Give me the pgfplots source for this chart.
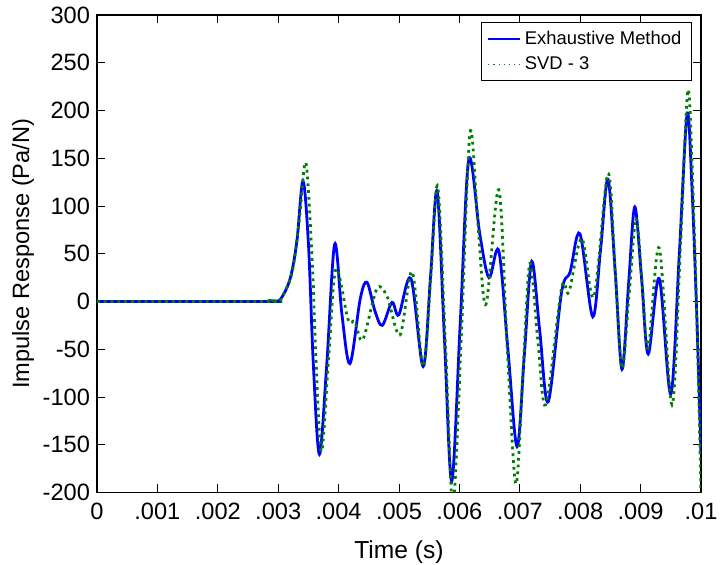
\documentclass[border=0pt]{standalone}
\usepackage{pgfplots}
\pgfplotsset{compat=1.18}
\usepackage{fontspec}
\setmainfont{Liberation Sans}
\definecolor{mblue}{RGB}{0,0,255}
\definecolor{mgreen}{RGB}{0,128,0}
\begin{document}
\begin{tikzpicture}
\begin{axis}[
  scale only axis,
  width=302pt, height=238.75pt,
  xmin=0, xmax=0.01, ymin=-200, ymax=300,
  xtick={0,0.001,0.002,0.003,0.004,0.005,0.006,0.007,0.008,0.009,0.01},
  xticklabels={0,.001,.002,.003,.004,.005,.006,.007,.008,.009,.01},
  ytick={-200,-150,...,300},
  scaled x ticks=false,
  tick align=inside,
  tick style={black, thin},
  major tick length=4pt,
  axis line style={black, line width=0.8pt},
  ticklabel style={font=\fontsize{11.8}{14}\selectfont},
  xticklabel style={yshift=-1.5pt},
  /pgf/number format/assume math mode=true,
  xlabel={Time (s)},
  ylabel={Impulse Response (Pa/N)},
  xlabel style={font=\fontsize{12.3}{14}\selectfont, yshift=-4pt},
  ylabel style={font=\fontsize{11.8}{14}\selectfont, yshift=-2.5pt},
  legend style={at={(rel axis cs:0.985,0.985)}, anchor=north east,
    font=\fontsize{9.2}{10}\selectfont, draw=black, line width=0.6pt,
    inner xsep=3pt, inner ysep=2pt, row sep=0.8pt},
  legend cell align=left,
  clip=true,
]
\addplot[mblue, line width=1.4pt, smooth, tension=0.55,
  legend image code/.code={\draw[mblue, line width=0.6pt] (0pt,0pt) -- (16pt,0pt);}] coordinates {
(0,0) (0.002844,0) (0.002945,0.5) (0.003046,3) (0.003198,24) (0.003309,63) (0.003410,126)
(0.003501,60) (0.003582,-66) (0.003683,-160) (0.003804,-66) (0.003935,60) (0.004056,-14)
(0.004188,-65) (0.004359,3) (0.004470,20) (0.004602,-10) (0.004723,-25) (0.004884,-1)
(0.004996,-14) (0.005198,24) (0.005400,-68) (0.005521,25) (0.005632,115) (0.005753,-40)
(0.005874,-188) (0.006016,-20) (0.006157,149) (0.006339,70) (0.006490,25) (0.006652,53)
(0.006803,-50) (0.006955,-152) (0.007076,-55) (0.007197,42) (0.007329,-30) (0.007470,-105)
(0.007692,10) (0.007833,31) (0.007995,71) (0.008207,-16) (0.008338,55) (0.008460,128)
(0.008581,30) (0.008692,-71) (0.008803,20) (0.008904,99) (0.009015,25) (0.009126,-55)
(0.009308,24) (0.009500,-97) (0.009641,50) (0.009770,196) (0.009850,120) (0.009930,-14)
(0.01,-160)
};
\addlegendentry{Exhaustive Method}
\addplot[mgreen, line width=1.4pt, dotted, smooth, tension=0.55,
  legend image code/.code={\draw[mgreen, line width=0.6pt, dotted] (0pt,0pt) -- (16pt,0pt);}] coordinates {
(0,0) (0.002844,0) (0.002945,0.5) (0.003046,3) (0.003228,30) (0.003349,85) (0.003460,145)
(0.003572,30) (0.003612,-40) (0.003713,-157) (0.003834,-60) (0.003955,34) (0.004157,-19)
(0.004268,-21) (0.004400,-40) (0.004632,13) (0.004804,5) (0.005016,-35) (0.005218,31)
(0.005400,-68) (0.005531,30) (0.005642,120) (0.005773,-50) (0.005894,-212) (0.006036,-30)
(0.006177,177) (0.006308,80) (0.006440,-3) (0.006652,117) (0.006793,-50) (0.006935,-191)
(0.007056,-70) (0.007167,40) (0.007298,-40) (0.007430,-108) (0.007692,14) (0.007813,10)
(0.008025,66) (0.008227,5) (0.008460,134) (0.008581,30) (0.008692,-70) (0.008813,10)
(0.008924,87) (0.009025,20) (0.009126,-49) (0.009308,56) (0.009520,-108) (0.009661,60)
(0.009783,221) (0.009865,120) (0.009940,-40) (0.01,-200)
};
\addlegendentry{SVD - 3}
\end{axis}
\pgfresetboundingbox
\path (-48.5pt,-36.25pt) rectangle (313pt,246.25pt);
\end{tikzpicture}
\end{document}
